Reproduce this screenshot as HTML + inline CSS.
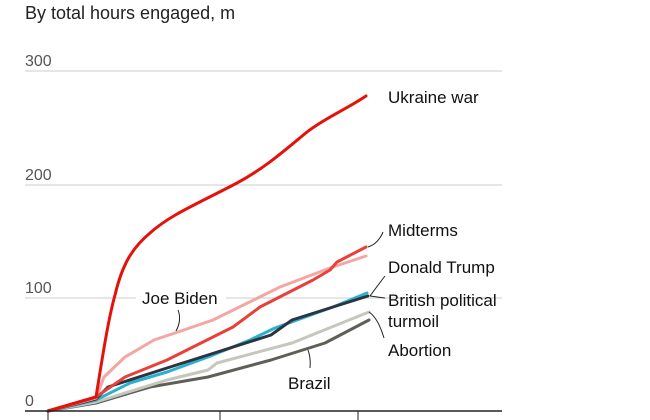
<!DOCTYPE html>
<html><head><style>body{margin:0;background:#fff}svg{display:block;font-family:"Liberation Sans",sans-serif}</style></head><body>
<svg width="650" height="420" viewBox="0 0 650 420">
<text x="25" y="19" font-size="18" fill="#222">By total hours engaged, m</text>
<g stroke="#ccc" stroke-width="1"><line x1="25" y1="71" x2="502" y2="71"/><line x1="25" y1="185" x2="502" y2="185"/><line x1="25" y1="298" x2="502" y2="298"/></g>
<g font-size="16" fill="#555"><text x="25" y="66">300</text><text x="25" y="180">200</text><text x="25" y="293">100</text><text x="25" y="406">0</text></g>
<rect x="136" y="286" width="90" height="22" fill="#fff"/>
<g fill="none" stroke-width="3" stroke-linejoin="round" stroke-linecap="round">
<polyline stroke="#5f5f58" points="48,411 96,403 150,387 208,377 271,360 325,343 369,320"/>
<polyline stroke="#c5c7bd" points="48,411 96,402 167,380 208,370 217,363 292,343 369,312"/>
<polyline stroke="#2bb0cf" points="48,411 96,400 130,383 167,372 208,357 250,340 275,328 333,307 367,293"/>
<polyline stroke="#2c3440" points="48,411 96,399 108,387 167,368 208,355 271,335 292,320 333,307 368,296"/>
<polyline stroke="#f4a6a2" points="48,411 96,398 104,377 125,357 154,340 175,333 213,320 280,287 330,268 366,256"/>
<polyline stroke="#e8403a" points="48,411 96,397 125,377 167,360 233,327 260,307 313,280 330,270 337,262 366,247"/>
<path stroke="#e3120b" d="M48,411 L96,397 C102,360 108,320 115,295 C122,265 132,248 150,233 C170,215 195,205 237,183 C265,168 285,150 307,132 C325,118 345,110 366,96"/>
</g>
<line x1="25" y1="411" x2="502" y2="411" stroke="#222" stroke-width="1.5"/>
<g stroke="#222" stroke-width="1"><line x1="48" y1="411" x2="48" y2="420"/><line x1="220" y1="411" x2="220" y2="420"/><line x1="358" y1="411" x2="358" y2="420"/></g>
<g font-size="17" fill="#111">
<text x="388" y="103">Ukraine war</text>
<text x="388" y="236">Midterms</text>
<text x="388" y="273">Donald Trump</text>
<text x="388" y="306">British political</text>
<text x="388" y="327">turmoil</text>
<text x="388" y="356">Abortion</text>
<text x="288" y="389">Brazil</text>
<text x="142" y="304">Joe Biden</text>
</g>
<g fill="none" stroke="#222" stroke-width="1">
<path d="M368,247 Q378,244 383,232"/>
<path d="M370,296 Q378,285 385,276"/>
<path d="M370,296 L385,298"/>
<path d="M369,312 Q378,318 384,338"/>
<path d="M310,368 Q311,358 308,350"/>
<path d="M178,310 Q182,320 176,331"/>
</g>
</svg>
</body></html>
